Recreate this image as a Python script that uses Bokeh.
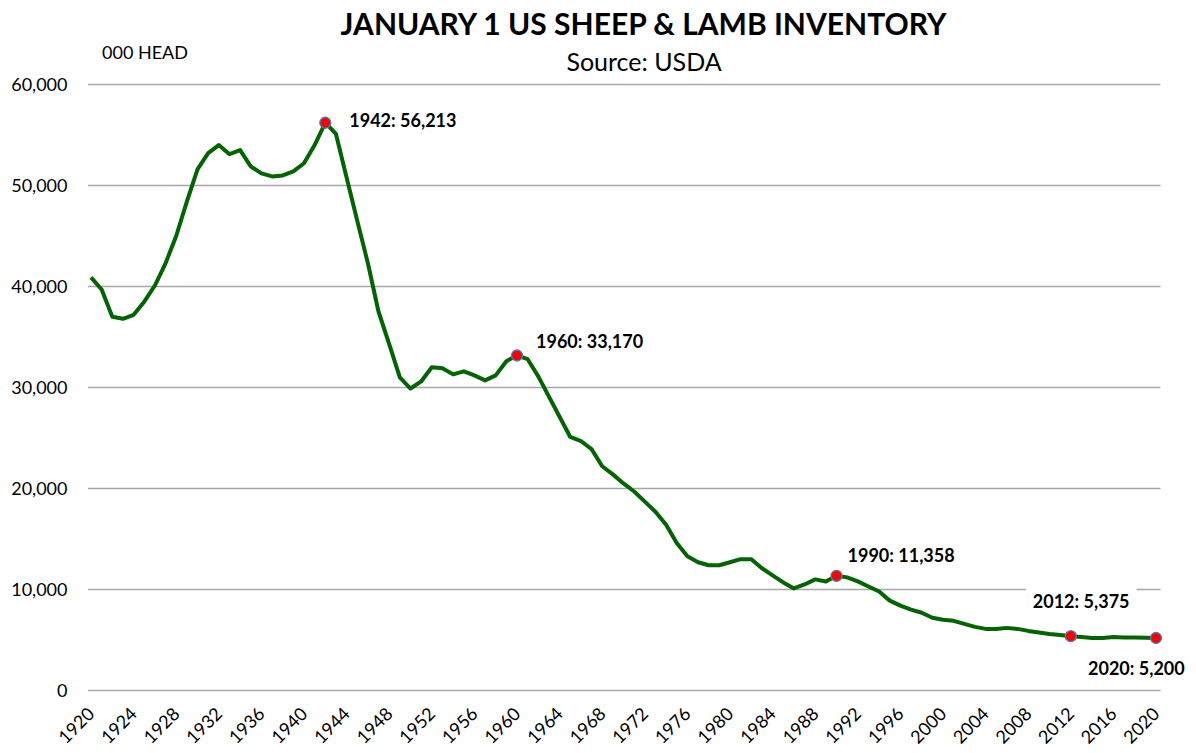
import math
from bokeh.plotting import figure
from bokeh.models import Range1d, FixedTicker, NumeralTickFormatter, Label, ColumnDataSource
from bokeh.embed import file_html
from bokeh.resources import INLINE

# ---------------- data ----------------
years = list(range(1920, 2021))
inventory = [
    40900, 39700, 37000, 36800, 37200, 38500, 40100, 42300, 45000, 48400,   # 1920-1929
    51600, 53200, 54000, 53100, 53500, 51900, 51200, 50900, 51000, 51400,   # 1930-1939
    52200, 54000, 56213, 55100, 50800, 46500, 42300, 37500, 34300, 31000,   # 1940-1949
    29900, 30600, 32000, 31900, 31300, 31600, 31200, 30700, 31200, 32600,   # 1950-1959
    33170, 32800, 31100, 29100, 27100, 25100, 24700, 23900, 22200, 21400,   # 1960-1969
    20500, 19700, 18700, 17700, 16400, 14600, 13300, 12700, 12400, 12400,   # 1970-1979
    12700, 13000, 13000, 12100, 11400, 10700, 10100, 10500, 11000, 10800,   # 1980-1989
    11358, 11200, 10800, 10300, 9800, 8900, 8400, 8000, 7700, 7200,         # 1990-1999
    7000, 6900, 6600, 6300, 6100, 6100, 6200, 6100, 5900, 5750,             # 2000-2009
    5600, 5500, 5375, 5300, 5200, 5200, 5300, 5250, 5250, 5230,             # 2010-2019
    5200,                                                                   # 2020
]
highlight_years = [1942, 1960, 1990, 2012, 2020]
x_ticks = list(range(1920, 2021, 4))
y_ticks = [0, 10000, 20000, 30000, 40000, 50000, 60000]
title_text = "JANUARY 1 US SHEEP & LAMB INVENTORY"
subtitle_text = "Source: USDA"
unit_text = "000 HEAD"

# ---------------- layout constants (page pixels) ----------------
FONT = "Lato"
W, H = 1196, 753
FRAME_L, FRAME_R, FRAME_T, FRAME_B = 87, 1196, 0, 696
PX_PER_YEAR = 10.65
PX_PER_UNIT = 0.0101
X1920_PX = 90.5     # page x of year 1920
Y0_PX = 690         # page y of value 0
GRID_L, GRID_R = 87.3, 1160

def px_to_x(px):
    return 1920 + (px - X1920_PX) / PX_PER_YEAR

def px_to_y(py):
    return (Y0_PX - py) / PX_PER_UNIT

p = figure(width=W, height=H, output_backend="svg", toolbar_location=None,
           x_range=Range1d(px_to_x(FRAME_L), px_to_x(FRAME_R)),
           y_range=Range1d(px_to_y(FRAME_B), px_to_y(FRAME_T)),
           min_border_left=FRAME_L, min_border_right=W - FRAME_R,
           min_border_top=FRAME_T, min_border_bottom=H - FRAME_B)
p.outline_line_color = None
p.background_fill_color = "white"
p.border_fill_color = "white"

# grid drawn as horizontal rules limited to the chart area
p.xgrid.visible = False
p.ygrid.visible = False
n = len(y_ticks)
p.segment(x0=[px_to_x(GRID_L)] * n, y0=y_ticks, x1=[px_to_x(GRID_R)] * n, y1=y_ticks,
          line_color="#a6a6a6", line_width=1.3, level="underlay")

# y axis
p.yaxis.ticker = FixedTicker(ticks=y_ticks)
p.yaxis.formatter = NumeralTickFormatter(format="0,0")
p.yaxis.axis_line_color = None
p.yaxis.major_tick_line_color = None
p.yaxis.minor_tick_line_color = None
p.yaxis.major_tick_out = 0
p.yaxis.minor_tick_out = 0
p.yaxis.major_label_standoff = 20
p.yaxis.major_label_text_font = FONT
p.yaxis.major_label_text_font_size = "18px"
p.yaxis.major_label_text_color = "black"

# x axis
p.xaxis.ticker = FixedTicker(ticks=x_ticks)
p.xaxis.axis_line_color = None
p.xaxis.major_tick_line_color = None
p.xaxis.minor_tick_line_color = None
p.xaxis.major_tick_out = 0
p.xaxis.minor_tick_out = 0
p.xaxis.major_label_standoff = 14
p.xaxis.major_label_orientation = math.pi / 4
p.xaxis.major_label_text_font = FONT
p.xaxis.major_label_text_font_size = "18px"
p.xaxis.major_label_text_line_height = 0.8
p.xaxis.major_label_text_color = "black"

# line
src = ColumnDataSource(dict(year=years, value=inventory))
p.line("year", "value", source=src, line_color="#006400", line_width=4, line_join="round")

# highlighted points
hl_vals = [inventory[years.index(y)] for y in highlight_years]
p.scatter(highlight_years, hl_vals, size=11, fill_color="#ff0000",
          line_color="#4a7ebb", line_width=1.3)

# annotation labels (offsets in pixels)
offsets = {1942: (24, 3), 1960: (19, 14), 1990: (11, 21), 2012: (-45, 35), 2020: (-68, -30)}
for yr, val in zip(highlight_years, hl_vals):
    dx, dy = offsets[yr]
    lbl = Label(x=yr, y=val, x_offset=dx, y_offset=dy, text=f"{yr}: {val:,}",
                text_font=FONT, text_font_size="18px", text_font_style="bold",
                text_color="black", text_baseline="middle", text_align="left")
    if yr == 2012:
        lbl.background_fill_color = "white"
        lbl.padding = 7
    p.add_layout(lbl)

# titles
p.add_layout(Label(x=px_to_x(644), y=px_to_y(22.5), text=title_text, text_font=FONT,
                   text_font_size="30px", text_font_style="bold", text_color="black",
                   text_align="center", text_baseline="middle"))
p.add_layout(Label(x=px_to_x(643.5), y=px_to_y(60.5), text=subtitle_text, text_font=FONT,
                   text_font_size="25px", text_color="black",
                   text_align="center", text_baseline="middle"))
p.add_layout(Label(x=px_to_x(101.5), y=px_to_y(51), text=unit_text, text_font=FONT,
                   text_font_size="18px", text_color="black",
                   text_align="left", text_baseline="middle"))

open("out.html", "w").write(file_html(p, INLINE))
